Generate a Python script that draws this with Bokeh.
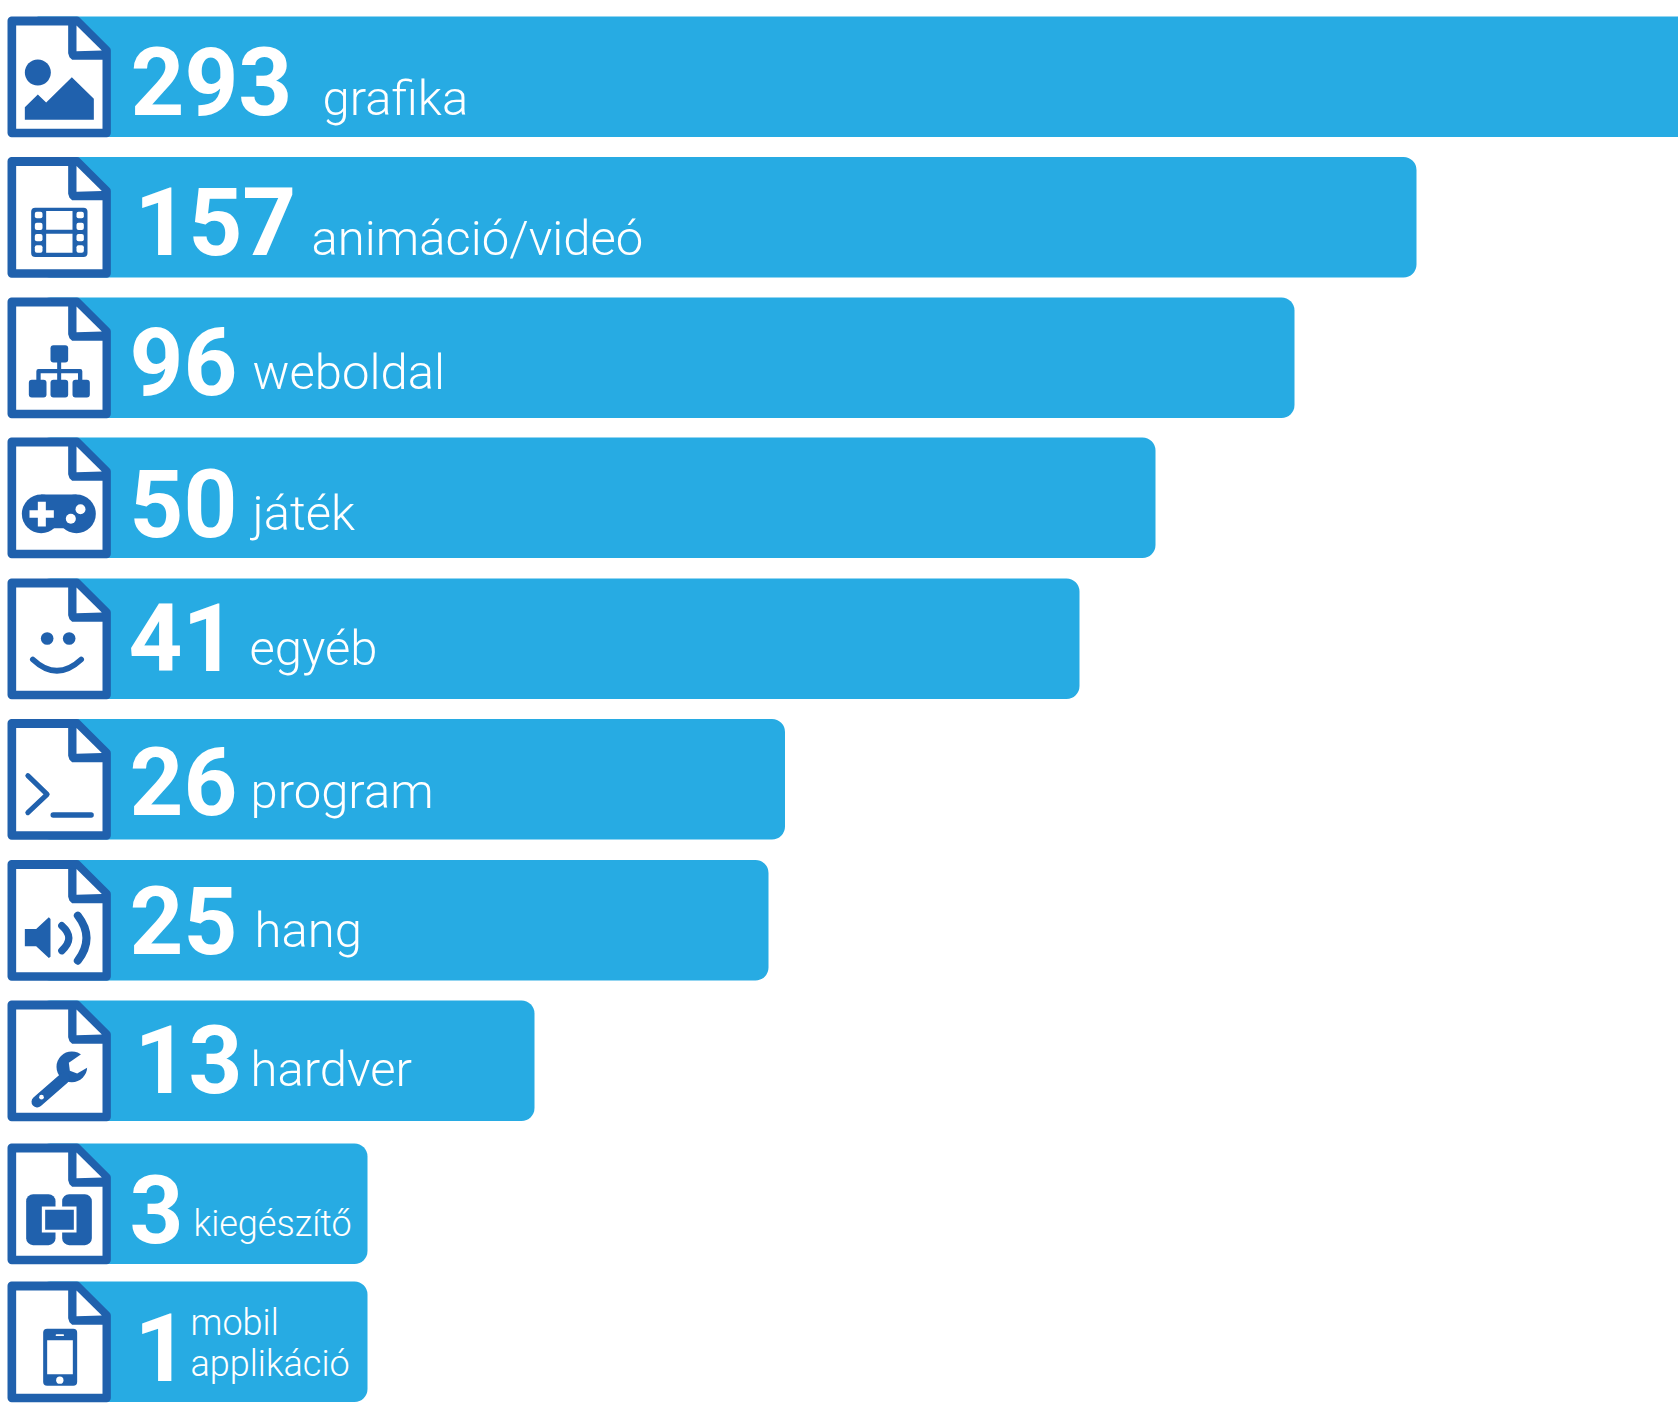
from bokeh.plotting import figure
from bokeh.models import Range1d, ColumnDataSource
from bokeh.core.properties import value
from bokeh.embed import file_html
from bokeh.resources import INLINE

# ---- data ----
categories = ["grafika", "animáció/videó", "weboldal", "játék", "egyéb",
              "program", "hang", "hardver", "kiegészítő", "mobil applikáció"]
counts = [293, 157, 96, 50, 41, 26, 25, 13, 3, 1]
# drawn bar ends (the bars are not proportional to the counts); the first runs off the picture
bar_lengths = [1720, 1416, 1294, 1155, 1079, 784.5, 768, 534, 367, 367]

# ---- layout ----
row_tops = [16, 156.5, 297, 437, 578, 718.5, 859.5, 1000, 1143, 1281]
ROW_H = 120.5
ICON_X = 7
num_x = [130, 134, 129, 129, 128, 129, 129, 134, 129, 134]
num_base = [112.5, 252.5, 392.5, 534.5, 668.5, 812.5, 951.5, 1090.5, 1240.5, 1378.5]
lab_x = [322, 311, 252, 252, 249, 250, 254, 250, 193, 190]
lab_base = [115, 255, 389, 530, 665, 808, 947, 1086, 1236, 1376]
NUM_SIZE = 94
LAB_SIZE = 49
SMALL_SIZE = 36
BASELINE_SHIFT = 0.34   # the text glyph's alphabetic baseline sits this many ems low

BAR = "#27ABE3"
BLUE = "#2061AD"
WHITE = "#FFFFFF"

p = figure(width=1678, height=1405, output_backend="svg", toolbar_location=None,
           x_range=Range1d(0, 1678), y_range=Range1d(1405, 0), min_border=0,
           background_fill_color=WHITE, border_fill_color=WHITE)
p.xaxis.visible = False
p.yaxis.visible = False
p.grid.visible = False
p.outline_line_color = None

ys = [t + ROW_H / 2 for t in row_tops]
p.hbar(y=ys[:1], left=[ICON_X + 30], right=bar_lengths[:1], height=ROW_H,
       fill_color=BAR, line_color=None)
src = ColumnDataSource(dict(
    y=ys[1:],
    right=bar_lengths[1:],
    left=[ICON_X + 30] * (len(counts) - 1),
    cat=categories[1:],
))
p.hbar(y="y", left="left", right="right", height=ROW_H, source=src,
       fill_color=BAR, line_color=None, border_radius=13)


class Icon:
    """Draws in units of a third of a pixel, relative to the icon's top-left corner."""
    def __init__(self, row):
        self.top = row_tops[row]

    def X(self, u):
        return ICON_X + u / 3

    def Y(self, u):
        return self.top + u / 3

    def poly(self, pts, color=BLUE, **kw):
        p.patch([self.X(a) for a, _ in pts], [self.Y(b) for _, b in pts],
                fill_color=color, line_color=None, **kw)

    def rect(self, x0, x1, y0, y1, color=BLUE, r=0):
        p.quad(left=[self.X(x0)], right=[self.X(x1)], top=[self.Y(y0)], bottom=[self.Y(y1)],
               fill_color=color, line_color=None, border_radius=r)

    def circ(self, cx, cy, r, color=BLUE):
        p.circle(x=[self.X(cx)], y=[self.Y(cy)], radius=r / 3, fill_color=color, line_color=None)

    def line(self, pts, w, color=BLUE):
        p.line([self.X(a) for a, _ in pts], [self.Y(b) for _, b in pts], line_color=color,
               line_width=w / 3, line_cap="round", line_join="round")

    def curve(self, a, c, b, w, color=BLUE):
        p.quadratic(x0=[self.X(a[0])], y0=[self.Y(a[1])], x1=[self.X(b[0])], y1=[self.Y(b[1])],
                    cx=[self.X(c[0])], cy=[self.Y(c[1])], line_color=color,
                    line_width=w / 3, line_cap="round")

    def frame(self):
        outline = [(12.5, 12.5), (208, 12.5), (297.5, 102), (297.5, 349.5), (12.5, 349.5)]
        p.patch([self.X(a) for a, _ in outline], [self.Y(b) for _, b in outline],
                fill_color=BLUE, line_color=BLUE, line_width=25 / 3, line_join="round")
        self.poly([(26, 27), (182, 27), (182, 110), (186, 122), (194, 130), (285, 130),
                   (285, 337), (26, 337)], WHITE)
        self.poly([(207, 27), (283, 102), (207, 104)], WHITE)


def icon_picture(i):
    i.circ(91, 168, 39)
    i.poly([(52, 310), (52, 272), (91, 234), (116, 258), (193, 182), (259, 247), (259, 310)])


def icon_film(i):
    i.rect(71, 240, 152, 300, r=4)
    i.rect(116, 195, 162, 218, WHITE)
    i.rect(116, 195, 230, 287, WHITE)
    for y0, y1 in [(164, 184), (197, 219), (231, 253), (265, 287)]:
        i.rect(82, 105, y0, y1, WHITE, r=2)
        i.rect(207, 229, y0, y1, WHITE, r=2)


def icon_sitemap(i):
    i.rect(129, 182, 143, 195, r=3)
    for x0, x1 in [(64, 117), (129, 182), (195, 247)]:
        i.rect(x0, x1, 247, 300, r=3)
    i.line([(155, 195), (155, 247)], 12)
    i.line([(93, 247), (93, 221), (218, 221), (218, 247)], 13)


def icon_gamepad(i):
    i.circ(101, 229, 58)
    i.circ(207, 229, 58)
    i.rect(101, 207, 171, 272)
    i.rect(66, 139, 218, 241, WHITE)
    i.rect(91, 115, 193, 267, WHITE)
    i.circ(219, 215, 15, WHITE)
    i.circ(190, 244, 15, WHITE)


def icon_smile(i):
    i.circ(119, 180, 19)
    i.circ(185, 180, 19)
    i.curve((76, 243), (148, 311), (221, 243), 17)


def icon_terminal(i):
    i.line([(61, 170), (119, 226), (61, 281)], 15)
    i.line([(137, 288), (251, 288)], 16)


def icon_speaker(i):
    i.poly([(52, 207), (86, 207), (124, 172), (129, 177), (129, 290), (124, 294),
            (86, 259), (52, 259)])
    i.curve((163, 197), (205, 234), (163, 272), 22)
    i.curve((211, 167), (263, 234), (211, 302), 24)


def icon_wrench(i):
    i.circ(193, 199, 46)
    i.line([(169, 234), (89, 304)], 34)
    i.circ(102, 290, 7, WHITE)
    i.poly([(224, 159), (184, 187), (187, 211), (209, 219), (244, 199), (250, 150)], WHITE)


def icon_extension(i):
    i.rect(56, 144, 152, 305, r=7)
    i.rect(164, 253, 152, 305, r=7)
    i.rect(103, 207, 189, 267, WHITE)
    i.rect(113, 199, 199, 259)


def icon_phone(i):
    i.rect(107, 209, 142, 313, r=4)
    i.rect(119, 196, 176, 278, WHITE)
    i.line([(147, 161), (167, 161)], 5, WHITE)
    i.circ(157, 296, 11, WHITE)


painters = [icon_picture, icon_film, icon_sitemap, icon_gamepad, icon_smile,
            icon_terminal, icon_speaker, icon_wrench, icon_extension, icon_phone]
for row, paint in enumerate(painters):
    ic = Icon(row)
    ic.frame()
    paint(ic)

# counts
p.text(x=num_x, y=[b - BASELINE_SHIFT * NUM_SIZE for b in num_base],
       text=[str(c) for c in counts], text_color=WHITE,
       text_font=value("Roboto"), text_font_style="bold", text_font_size=f"{NUM_SIZE}px",
       text_align="left", text_baseline="alphabetic")

# category labels
LIGHT = value("Roboto Light")
p.text(x=lab_x[:8], y=[b - BASELINE_SHIFT * LAB_SIZE for b in lab_base[:8]], text=categories[:8],
       text_color=WHITE, text_font=LIGHT, text_font_size=f"{LAB_SIZE}px",
       text_align="left", text_baseline="alphabetic")
mobil, applikacio = categories[9].split(" ")
p.text(x=[lab_x[8], lab_x[9], lab_x[9]],
       y=[b - BASELINE_SHIFT * SMALL_SIZE for b in (lab_base[8], 1335, lab_base[9])],
       text=[categories[8], mobil, applikacio], text_color=WHITE,
       text_font=LIGHT, text_font_size=f"{SMALL_SIZE}px",
       text_align="left", text_baseline="alphabetic")

open("out.html", "w").write(file_html(p, INLINE))
